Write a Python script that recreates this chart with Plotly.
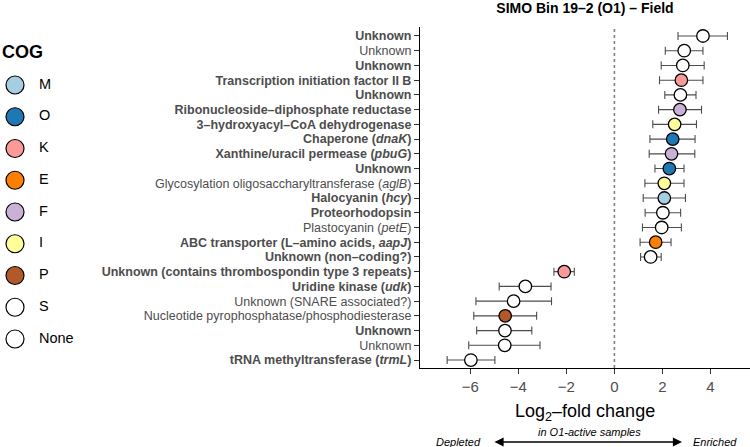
import plotly.graph_objects as go

# ---------------- data ----------------
labels = [
    "<b>Unknown</b>",
    "Unknown",
    "<b>Unknown</b>",
    "<b>Transcription initiation factor II B</b>",
    "<b>Unknown</b>",
    "<b>Ribonucleoside–diphosphate reductase</b>",
    "<b>3–hydroxyacyl–CoA dehydrogenase</b>",
    "<b>Chaperone (<i>dnaK</i>)</b>",
    "<b>Xanthine/uracil permease (<i>pbuG</i>)</b>",
    "<b>Unknown</b>",
    "Glycosylation oligosaccharyltransferase (<i>aglB</i>)",
    "<b>Halocyanin (<i>hcy</i>)</b>",
    "<b>Proteorhodopsin</b>",
    "Plastocyanin (<i>petE</i>)",
    "<b>ABC transporter (L–amino acids, <i>aapJ</i>)</b>",
    "<b>Unknown (non–coding?)</b>",
    "<b>Unknown (contains thrombospondin type 3 repeats)</b>",
    "<b>Uridine kinase (<i>udk</i>)</b>",
    "Unknown (SNARE associated?)",
    "Nucleotide pyrophosphatase/phosphodiesterase",
    "<b>Unknown</b>",
    "Unknown",
    "<b>tRNA methyltransferase (<i>trmL</i>)</b>",
]
log2fc = [3.69, 2.91, 2.85, 2.79, 2.75, 2.73, 2.51, 2.43, 2.38, 2.29, 2.08, 2.08,
          2.02, 1.97, 1.72, 1.51, -2.09, -3.71, -4.20, -4.55, -4.56, -4.57, -5.98]
err_low = [2.65, 2.12, 1.95, 1.88, 2.10, 1.84, 1.60, 1.48, 1.45, 1.69, 1.27, 1.20,
           1.28, 1.17, 1.07, 1.09, -2.52, -4.80, -5.77, -5.86, -5.74, -6.07, -6.97]
err_high = [4.71, 3.69, 3.74, 3.69, 3.40, 3.63, 3.42, 3.36, 3.35, 2.90, 2.90, 2.96,
            2.76, 2.79, 2.36, 1.95, -1.67, -2.64, -2.62, -3.24, -3.44, -3.10, -4.98]
cog = ["None", "None", "None", "K", "None", "F", "I", "O", "F", "O", "I", "M",
       "S", "S", "E", "None", "K", "S", "S", "P", "None", "None", "S"]

cog_levels = ["M", "O", "K", "E", "F", "I", "P", "S", "None"]
cog_colors = ["#A6CEE3", "#1F78B4", "#FB9A99", "#FF7F00", "#CAB2D6",
              "#FFFF99", "#B15928", "#FFFFFF", "#FFFFFF"]
x_ticks = [-6, -4, -2, 0, 2, 4]

# ---------------- figure ----------------
color_map = dict(zip(cog_levels, cog_colors))
rows = list(range(len(labels)))
FONT = "Liberation Sans, Arial, Helvetica, sans-serif"
W, H = 750, 447
T, B = 27, 79
plot_h = H - T - B

fig = go.Figure()

fig.add_trace(go.Scatter(
    x=log2fc, y=rows, mode="markers",
    marker=dict(size=12.5, color=[color_map[c] for c in cog],
                line=dict(color="black", width=1.3)),
    error_x=dict(type="data", symmetric=False,
                 array=[h - v for h, v in zip(err_high, log2fc)],
                 arrayminus=[v - l for l, v in zip(err_low, log2fc)],
                 color="#4D4D4D", thickness=1.1, width=4),
    showlegend=False, xaxis="x", yaxis="y",
))

# manual COG legend on an auxiliary axis pair
leg_idx = list(range(len(cog_levels)))
fig.add_trace(go.Scatter(
    x=[0] * len(cog_levels), y=leg_idx, mode="markers",
    marker=dict(size=18, color=cog_colors, line=dict(color="black", width=1.2)),
    showlegend=False, xaxis="x2", yaxis="y2", hoverinfo="skip",
))
fig.add_trace(go.Scatter(
    x=[24] * len(cog_levels), y=leg_idx, mode="text",
    text=cog_levels, textposition="middle right",
    textfont=dict(family=FONT, size=14.5, color="black"),
    showlegend=False, xaxis="x2", yaxis="y2", hoverinfo="skip",
))

fig.add_vline(x=0, line=dict(color="#808080", width=1.6, dash="dot"))

def py(pix):
    return (H - B - pix) / plot_h

annots = [
    dict(text="<b>COG</b>", x=0.0, y=py(52), xanchor="left", yanchor="middle",
         font=dict(size=18, color="black")),
    dict(text="Log<sub>2</sub>–fold change", x=585 / W, y=py(413),
         xanchor="center", yanchor="middle", font=dict(size=18, color="black")),
    dict(text="<i>in O1-active samples</i>", x=589 / W, y=py(432),
         xanchor="center", yanchor="middle", font=dict(size=11, color="black")),
    dict(text="<i>Depleted</i>", x=458 / W, y=py(442),
         xanchor="center", yanchor="middle", font=dict(size=11, color="black")),
    dict(text="<i>Enriched</i>", x=715 / W, y=py(442),
         xanchor="center", yanchor="middle", font=dict(size=11, color="black")),
]
for a in annots:
    a.update(xref="paper", yref="paper", showarrow=False)
annots.append(dict(text="", x=682 / W, y=py(442), xref="paper", yref="paper",
                   ax=-(682 - 493), ay=0, showarrow=True, arrowhead=2,
                   arrowside="end+start", arrowsize=1.3, arrowwidth=1.4,
                   arrowcolor="black"))

fig.update_layout(
    width=W, height=H,
    margin=dict(l=0, r=0, t=T, b=B, pad=0),
    paper_bgcolor="white", plot_bgcolor="white",
    font=dict(family=FONT, color="black"),
    title=dict(text="<b>SIMO Bin 19–2 (O1) – Field</b>", x=585 / W, xanchor="center",
               y=1 - 8 / H, yanchor="middle", yref="container",
               font=dict(size=14, color="black")),
    xaxis=dict(domain=[420 / W, 1], range=[-8.1, 5.65], tickvals=x_ticks,
               showgrid=False, zeroline=False, showline=True, linecolor="black",
               linewidth=1.2, ticks="outside", ticklen=5, tickcolor="#333333",
               tickwidth=1.1, tickfont=dict(size=15, color="#4D4D4D"),
               automargin=False, anchor="y"),
    yaxis=dict(domain=[0, 1], range=[22.54, -0.61], tickvals=rows, ticktext=labels,
               showgrid=False, zeroline=False, showline=True, linecolor="black",
               linewidth=1.2, ticks="outside", ticklen=5, tickcolor="#333333",
               tickwidth=1.1, tickfont=dict(size=12.5, color="#4D4D4D"),
               automargin=False, anchor="x"),
    xaxis2=dict(domain=[0, 0.2], range=[-15, 135], visible=False, anchor="y2"),
    yaxis2=dict(domain=[0, 1], range=[(H - B - 85) / 31.75, (T - 85) / 31.75],
                visible=False, anchor="x2"),
    annotations=annots,
)

fig.write_html("out.html", config={"displayModeBar": False},
               post_script="document.body.style.margin='0';document.body.style.overflow='hidden';")
